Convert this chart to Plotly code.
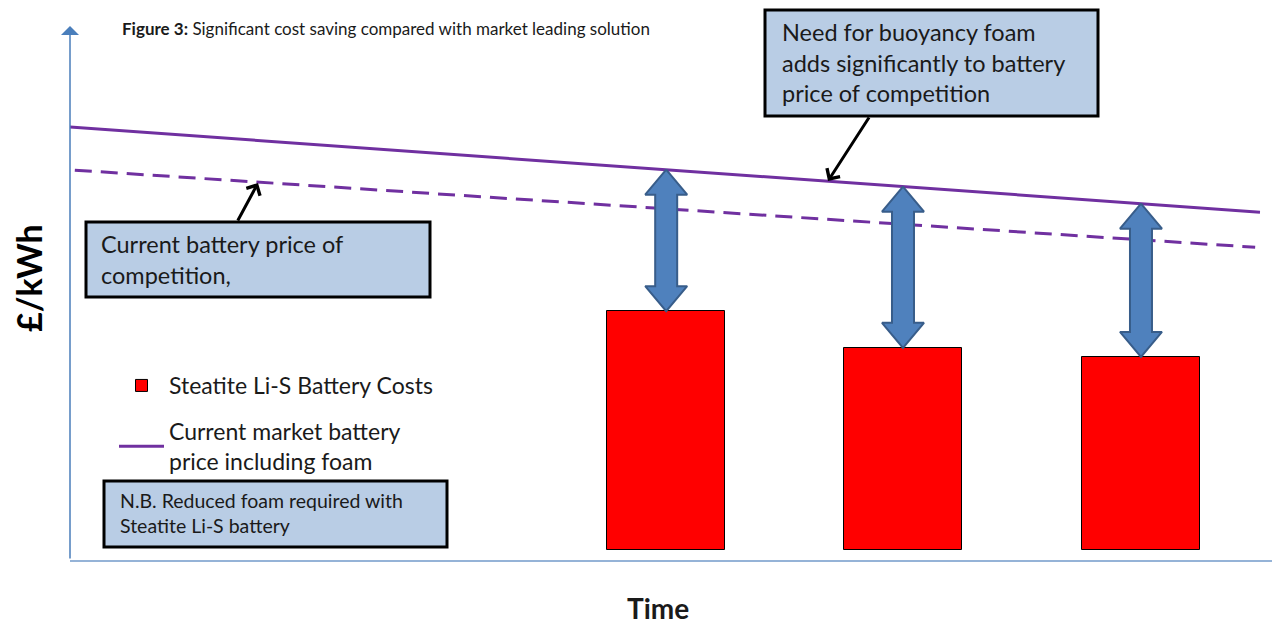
import numpy as np
import plotly.graph_objects as go

# ---------------- data ----------------
bar_time = [49.6, 69.3, 89.1]          # time position of each Li-S bar
li_s_cost = [44.9, 38.0, 36.3]         # Steatite Li-S battery cost (£/kWh, schematic units)
line_time = [0.0, 99.0]
price_with_foam = [79.5, 63.5]         # current market battery price including foam
dash_time = [0.4, 98.6]
price_without_foam = [71.4, 56.9]      # current battery price of competition

legend_bar_name = "Steatite Li-S Battery Costs"
legend_line_name = "Current market battery<br>price including foam"

# ---------------- geometry helpers ----------------
W, H = 1272, 628
L, R, T, B = 70, 0, 28, 68
XR = [0, 100]
YR = [-1.88, 98.12]
PW, PH = W - L - R, H - T - B
sx = PW / (XR[1] - XR[0])
sy = PH / (YR[1] - YR[0])


def px(xp):
    return (xp - L) / PW


def py(yp):
    return (H - B - yp) / PH


FONT = "Lato"
PURPLE = "#7030A0"
BLUE_FILL = "#4F81BD"
BLUE_EDGE = "#385D8A"
BOX_FILL = "#B9CDE5"

fig = go.Figure()

# bars
fig.add_trace(go.Bar(
    x=bar_time, y=li_s_cost, width=9.8, name=legend_bar_name,
    marker=dict(color="#FF0000", line=dict(color="#000000", width=1)),
    legendgroup="a",
))

# solid line (with foam)
fig.add_trace(go.Scatter(
    x=line_time, y=price_with_foam, mode="lines", name=legend_line_name,
    line=dict(color=PURPLE, width=3), legendgroup="b",
))

# dashed line (competition)
fig.add_trace(go.Scatter(
    x=dash_time, y=price_without_foam, mode="lines", showlegend=False,
    line=dict(color=PURPLE, width=3, dash="17px,9px"),
))

# double-headed arrows between line and bar tops
hs = 11 / sx   # shaft half width
hh = 21 / sx   # head half width
hl = 25 / sy   # head length
tops = np.interp(bar_time, line_time, price_with_foam)
for xc, top, bot in zip(bar_time, tops, li_s_cost):
    xs = [xc, xc + hh, xc + hs, xc + hs, xc + hh, xc, xc - hh, xc - hs, xc - hs, xc - hh, xc]
    ys = [top, top - hl, top - hl, bot + hl, bot + hl, bot, bot + hl, bot + hl, top - hl, top - hl, top]
    fig.add_trace(go.Scatter(
        x=xs, y=ys, mode="lines", fill="toself", fillcolor=BLUE_FILL,
        line=dict(color=BLUE_EDGE, width=2), showlegend=False, hoverinfo="skip",
    ))

shapes = []
annotations = []


def box(x0, y0, x1, y1):
    shapes.append(dict(type="rect", xref="paper", yref="paper",
                       x0=px(x0), x1=px(x1), y0=py(y1), y1=py(y0),
                       fillcolor=BOX_FILL, line=dict(color="#000000", width=3),
                       layer="above"))


def text(xp, yp, s, size, anchor="left", angle=0):
    annotations.append(dict(xref="paper", yref="paper", x=px(xp), y=py(yp),
                            text=s, showarrow=False, xanchor=anchor, yanchor="middle",
                            align="left", textangle=angle,
                            font=dict(family=FONT, size=size, color="#1a1a1a")))


# callout boxes
box(86, 222, 430, 297)
text(99, 259, "Current battery price of<br>competition,", 23.5)

box(765, 10, 1098, 116)
text(780, 63, "Need for buoyancy foam<br>adds significantly to battery<br>price of competition", 23.5)

box(104, 481, 447, 547)
text(118, 513, "N.B. Reduced foam required with<br>Steatite Li-S battery", 19.5)

# title
text(120, 29, "<b>Figure 3:</b> Significant cost saving compared with market leading solution", 17)

# axis titles
text(658, 608, "<b>Time</b>", 28, anchor="center")
annotations.append(dict(xref="paper", yref="paper", x=px(28), y=py(278),
                        text="<b>£/kWh</b>", showarrow=False, textangle=-90,
                        xanchor="center", yanchor="middle",
                        font=dict(family=FONT, size=34, color="#000000")))


# black callout arrows
def conv_x(xp):
    return XR[0] + (xp - L) / sx


def conv_y(yp):
    return YR[0] + (H - B - yp) / sy


annotations.append(dict(xref="x", yref="y", axref="x", ayref="y",
                        x=conv_x(258), y=conv_y(183), ax=conv_x(237), ay=conv_y(222),
                        text="", showarrow=True, arrowhead=4, arrowsize=1,
                        arrowwidth=3, arrowcolor="#000000"))
annotations.append(dict(xref="x", yref="y", axref="x", ayref="y",
                        x=conv_x(828), y=conv_y(181), ax=conv_x(870), ay=conv_y(116),
                        text="", showarrow=True, arrowhead=4, arrowsize=1,
                        arrowwidth=3, arrowcolor="#000000"))

# y axis drawn as an arrow
annotations.append(dict(xref="x", yref="y domain", axref="x", ayref="y domain",
                        x=XR[0], y=py(26), ax=XR[0], ay=0,
                        text="", showarrow=True, arrowhead=1, arrowsize=2,
                        arrowwidth=1.5, arrowcolor="#4A7EBB"))

fig.update_layout(
    width=W, height=H,
    margin=dict(l=L, r=R, t=T, b=B, pad=0),
    paper_bgcolor="white", plot_bgcolor="white",
    xaxis=dict(range=XR, showgrid=False, zeroline=False, showticklabels=False,
               ticks="", showline=True, linecolor="#95B3D7", linewidth=2, fixedrange=True),
    yaxis=dict(range=YR, showgrid=False, zeroline=False, showticklabels=False,
               ticks="", showline=False, fixedrange=True),
    showlegend=True,
    legend=dict(x=px(114), y=py(364), xanchor="left", yanchor="top",
                font=dict(family=FONT, size=23, color="#1a1a1a"),
                bgcolor="rgba(0,0,0,0)", tracegroupgap=13, itemwidth=45,
                traceorder="grouped"),
    shapes=shapes,
    annotations=annotations,
    bargap=0,
)

fig.write_html("out.html", config={"displayModeBar": False},
               post_script="document.body.style.margin='0';")
